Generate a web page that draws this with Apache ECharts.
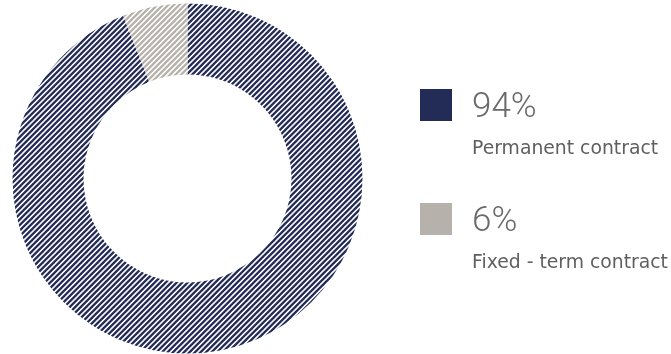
<!DOCTYPE html>
<html>
<head>
<meta charset="utf-8">
<script src="https://cdn.jsdelivr.net/npm/echarts@6/dist/echarts.min.js"></script>
<style>
  html, body { margin: 0; padding: 0; background: #ffffff; }
  #chart { width: 671px; height: 354px; }
</style>
</head>
<body>
<div id="chart"></div>
<script>
// Workforce by contract type
const categories = ['Permanent contract', 'Fixed - term contract'];
const shares = [94, 6];
const percentLabels = ['94%', '6%'];
const baseColors = ['#232b57', '#b6b2ab'];

// Diagonal hatch tile: solid base with thin light stripes rising to the right
function hatch(base) {
  const size = 11;
  const step = 5.5;
  const c = document.createElement('canvas');
  c.width = size;
  c.height = size;
  const ctx = c.getContext('2d');
  ctx.fillStyle = base;
  ctx.fillRect(0, 0, size, size);
  ctx.strokeStyle = 'rgba(255,255,255,0.85)';
  ctx.lineWidth = 1.4;
  for (let k = -size * 2; k <= size * 3; k += step) {
    ctx.beginPath();
    ctx.moveTo(k + size, -size);
    ctx.lineTo(k - size, size);
    ctx.moveTo(k + size * 2, -size);
    ctx.lineTo(k - size, size * 2);
    ctx.stroke();
  }
  return c;
}

const chart = echarts.init(document.getElementById('chart'), null, { renderer: 'canvas' });

function legendFor(i, top) {
  return {
    show: true,
    orient: 'vertical',
    left: 415,
    top: top,
    itemWidth: 32,
    itemHeight: 32,
    icon: 'rect',
    selectedMode: false,
    data: [{ name: categories[i], itemStyle: { color: baseColors[i] } }],
    formatter: function () {
      return '{sp| }\n{pct|' + percentLabels[i] + '}\n{name|' + categories[i] + '}';
    },
    textStyle: {
      padding: [0, 0, 0, 15],
      rich: {
        sp: { fontSize: 10, lineHeight: 54 },
        pct: {
          fontFamily: 'Roboto',
          fontWeight: 300,
          fontSize: 35,
          lineHeight: 34,
          color: '#6a6a6a'
        },
        name: {
          fontFamily: '"DejaVu Sans"',
          fontSize: 18.8,
          lineHeight: 48,
          color: '#5f5f5f'
        }
      }
    }
  };
}

chart.setOption({
  animation: false,
  legend: [legendFor(0, 54), legendFor(1, 168)],
  series: [{
    type: 'pie',
    center: [187.5, 178.5],
    radius: [104, 175],
    startAngle: 90,
    clockwise: true,
    label: { show: false },
    labelLine: { show: false },
    emphasis: { disabled: true },
    silent: true,
    data: categories.map(function (name, i) {
      return {
        name: name,
        value: shares[i],
        itemStyle: { color: { image: hatch(baseColors[i]), repeat: 'repeat' } }
      };
    })
  }]
});
</script>
</body>
</html>
